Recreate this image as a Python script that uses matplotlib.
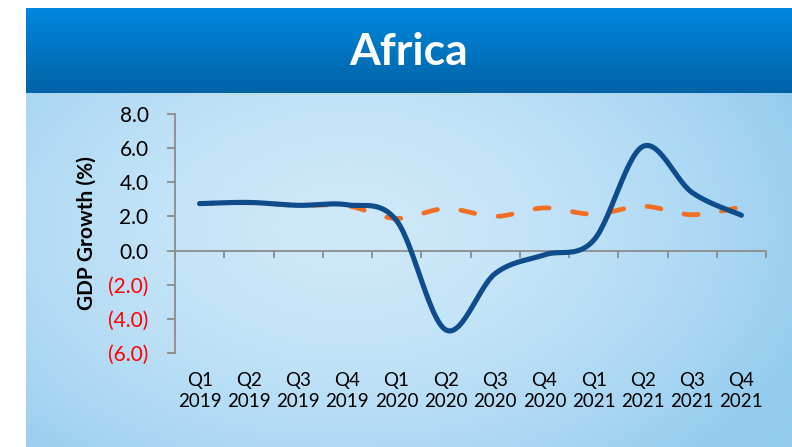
import numpy as np
import matplotlib
matplotlib.use("Agg")
import matplotlib.pyplot as plt
from matplotlib.colors import to_rgb
from matplotlib.ticker import FixedLocator, FuncFormatter

# ---- data ----
quarters = ["Q1", "Q2", "Q3", "Q4", "Q1", "Q2", "Q3", "Q4", "Q1", "Q2", "Q3", "Q4"]
years = ["2019"] * 4 + ["2020"] * 4 + ["2021"] * 4
gdp_growth = [2.75, 2.82, 2.65, 2.68, 1.75, -4.65, -1.35, -0.25, 0.60, 6.10, 3.40, 2.07]
trend = [2.75, 2.80, 2.65, 2.62, 1.88, 2.46, 2.00, 2.50, 2.13, 2.60, 2.10, 2.55]
title = "Africa"
ylabel = "GDP Growth (%)"
yticks = [-6, -4, -2, 0, 2, 4, 6, 8]

plt.rcParams['font.family'] = ['Lato', 'DejaVu Sans']

W, H = 792, 447
fig = plt.figure(figsize=(W / 100, H / 100), dpi=100, facecolor="white")

# ---- background ----
bg = fig.add_axes([0, 0, 1, 1])
bg.set_xlim(0, W)
bg.set_ylim(H, 0)
bg.axis("off")

# header gradient
top_c = np.array(to_rgb("#0088DF"))
bot_c = np.array(to_rgb("#0063A6"))
t = np.linspace(0, 1, 100)[:, None, None]
hdr = top_c * (1 - t) + bot_c * t
hdr = np.repeat(hdr, 2, axis=1)
bg.imshow(hdr, extent=[26, W, 93, 8], aspect="auto", interpolation="bilinear", zorder=0)

# panel gradient
light = np.array(to_rgb("#CDE8F9"))
dark = np.array(to_rgb("#94CCEF"))
ny, nx = 120, 240
yy, xx = np.mgrid[0:ny, 0:nx]
xn = xx / (nx - 1)
yn = yy / (ny - 1)
d = np.sqrt(((xn - 0.42) / 0.64) ** 2 + ((yn - 0.38) / 0.9) ** 2)
d = np.clip(d, 0, 1) ** 1.8
panel = light[None, None, :] * (1 - d[..., None]) + dark[None, None, :] * d[..., None]
bg.imshow(panel, extent=[26, W, H, 93], aspect="auto", interpolation="bilinear", zorder=0)

bg.text((26 + W) / 2, 52, title, color="white", fontsize=32, fontweight="bold",
        ha="center", va="center")

# ---- smoothing (Excel-like Catmull-Rom) ----
def smooth(y, n=30):
    y = np.asarray(y, float)
    x = np.arange(len(y), dtype=float)
    P = np.column_stack([x, y])
    P = np.vstack([P[0], P, P[-1]])
    out = []
    for i in range(1, len(P) - 2):
        p0, p1, p2, p3 = P[i - 1], P[i], P[i + 1], P[i + 2]
        c1 = p1 + (p2 - p0) / 6
        c2 = p2 - (p3 - p1) / 6
        s = np.linspace(0, 1, n)[:, None]
        seg = ((1 - s) ** 3) * p1 + 3 * ((1 - s) ** 2) * s * c1 + 3 * (1 - s) * s ** 2 * c2 + s ** 3 * p2
        out.append(seg if i == 1 else seg[1:])
    out = np.vstack(out)
    return out[:, 0], out[:, 1]

# ---- chart ----
ax = fig.add_axes([175 / W, 1 - 353 / H, (766 - 175) / W, (353 - 114) / H])
ax.patch.set_alpha(0)
ax.set_xlim(-0.5, 11.5)
ax.set_ylim(-6, 8)

tx, ty = smooth(trend)
ax.plot(tx, ty, color="#F26E22", lw=3.4, dashes=(3.0, 5.0), solid_capstyle="round",
        dash_capstyle="round", zorder=3)
gx, gy = smooth(gdp_growth)
ax.plot(gx, gy, color="#0F4C8C", lw=3.7, solid_capstyle="round", zorder=4)

for s in ["top", "right"]:
    ax.spines[s].set_visible(False)
ax.spines["left"].set_color("#8C8C8C")
ax.spines["left"].set_linewidth(1.3)
ax.spines["bottom"].set_position(("data", 0))
ax.spines["bottom"].set_color("#8C8C8C")
ax.spines["bottom"].set_linewidth(1.3)

ax.yaxis.set_major_locator(FixedLocator(yticks))
def fmt(v, pos):
    return f"({abs(v):.1f})" if v < 0 else f"{v:.1f}"
ax.yaxis.set_major_formatter(FuncFormatter(fmt))
ax.tick_params(axis="y", direction="out", length=6, width=1.3, color="#8C8C8C",
               labelsize=15, pad=13)
for lab, v in zip(ax.get_yticklabels(), yticks):
    lab.set_color("red" if v < 0 else "black")

ax.set_xticks(np.arange(-0.5, 12, 1.0))
ax.set_xticklabels([])
ax.tick_params(axis="x", direction="out", length=5, width=1.3, color="#8C8C8C")

for i, (q, yr) in enumerate(zip(quarters, years)):
    ax.text(i, -0.08, f"{q}\n{yr}", transform=ax.get_xaxis_transform(),
            ha="center", va="top", fontsize=13.5, linespacing=1.3)

ax.set_ylabel(ylabel, fontsize=15, fontweight="bold", labelpad=8)

fig.savefig("out.png", dpi=100, facecolor="white")
